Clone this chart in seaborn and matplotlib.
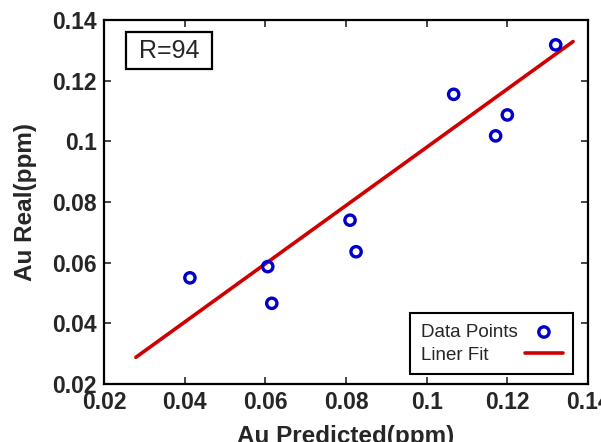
import numpy as np
import pandas as pd
import matplotlib
matplotlib.use("Agg")
import matplotlib.pyplot as plt
from matplotlib.patches import Rectangle
import seaborn as sns

# data
au_predicted = [0.0413, 0.0606, 0.0616, 0.0810, 0.0825, 0.1067, 0.1171, 0.1200, 0.1320]
au_real = [0.0550, 0.0587, 0.0466, 0.0740, 0.0636, 0.1155, 0.1018, 0.1087, 0.1318]
fit_x = [0.0279, 0.1363]
fit_y = [0.0288, 0.1329]
x_ticks = [0.02, 0.04, 0.06, 0.08, 0.10, 0.12, 0.14]
x_tick_labels = ["0.02", "0.04", "0.06", "0.08", "0.1", "0.12", "0.14"]
y_ticks = [0.02, 0.04, 0.06, 0.08, 0.10, 0.12, 0.14]
y_tick_labels = ["0.02", "0.04", "0.06", "0.08", "0.1", "0.12", "0.14"]
r_label = "R=94"

sns.set_style("ticks")
plt.rcParams['font.family'] = ['Liberation Sans', 'DejaVu Sans']

fig = plt.figure(figsize=(6.01, 4.42), dpi=100)
ax = fig.add_axes([104/601, 1-384/442, (588-104)/601, (384-20)/442])

pts = pd.DataFrame({"x": au_predicted, "y": au_real})
fit = pd.DataFrame({"x": fit_x, "y": fit_y})

sns.lineplot(data=fit, x="x", y="y", ax=ax, color="#d00000", linewidth=2.6,
             label="Liner Fit", zorder=2)
sns.scatterplot(data=pts, x="x", y="y", ax=ax, marker="o", s=55,
                facecolors="none", edgecolor="#0000c8", linewidth=2.4,
                label="Data Points", zorder=3)

ax.set_xlim(0.02, 0.14)
ax.set_ylim(0.02, 0.14)
ax.set_xticks(x_ticks)
ax.set_xticklabels(x_tick_labels, fontsize=16.5, fontweight="bold")
ax.set_yticks(y_ticks)
ax.set_yticklabels(y_tick_labels, fontsize=16.5, fontweight="bold")
ax.tick_params(direction="in", length=5, width=1.2, top=True, right=True, pad=5)
for s in ax.spines.values():
    s.set_visible(True)
    s.set_linewidth(1.6)
    s.set_color("black")

ax.set_xlabel("Au Predicted(ppm)", fontsize=17.5, fontweight="bold", labelpad=8)
ax.set_ylabel("Au Real(ppm)", fontsize=17.5, fontweight="bold", labelpad=11)

# R box
ax.add_patch(Rectangle((22/484, (384-69)/364), 86/484, 37/364,
                       transform=ax.transAxes, facecolor="white",
                       edgecolor="black", linewidth=1.6, zorder=4))
ax.text(0.134, 0.916, r_label, transform=ax.transAxes, fontsize=18,
        ha="center", va="center", zorder=5)

handles, labels = ax.get_legend_handles_labels()
order = [labels.index("Data Points"), labels.index("Liner Fit")]
leg = ax.legend([handles[i] for i in order], [labels[i] for i in order],
                loc="lower right", markerfirst=False, fontsize=13.5,
                frameon=True, fancybox=False, framealpha=1,
                edgecolor="black", borderpad=0.55, borderaxespad=0,
                handlelength=2.0, handletextpad=1.0,
                bbox_to_anchor=(0.969, 0.0275), labelspacing=0.3)
leg.get_frame().set_linewidth(1.5)

# left-align legend texts while keeping handles aligned on the right
items = []
for col in leg._legend_handle_box.get_children():
    for ib in col.get_children():
        items.append(ib)
for ib in items:
    ib.mode = "expand"
    ib.width = 142

fig.savefig("out.png", dpi=100)
